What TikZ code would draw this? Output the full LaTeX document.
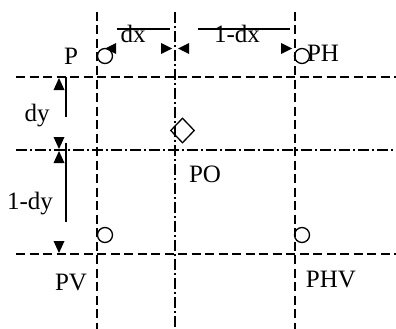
\documentclass[tikz,border=0pt]{standalone}
\usepackage{fontspec}
\setmainfont{Liberation Serif}
\usetikzlibrary{shapes.geometric}
\begin{document}
\begin{tikzpicture}[x=1pt,y=-1pt,
  dashln/.style={line width=1.4pt, dash pattern=on 9pt off 4.5pt},
  dashdot/.style={line width=1.4pt, dash pattern=on 11pt off 3pt on 2pt off 3pt},
  dimln/.style={line width=1.3pt},
  ptmark/.style={circle, draw, line width=1.3pt, minimum size=15pt, inner sep=0pt},
  omark/.style={diamond, draw, line width=1.3pt, minimum width=24pt, minimum height=25pt, inner sep=0pt},
  lbl/.style={font=\fontsize{25}{30}\selectfont, inner sep=0pt, anchor=base},
  tri/.style={fill=black}]
\useasboundingbox (0,0) rectangle (396,329);
% grid lines
\draw[dashln] (97,12) -- (97,329);
\draw[dashdot] (175,12) -- (175,329);
\draw[dashln] (295,12) -- (295,329);
\draw[dashln] (16,77) -- (396,77);
\draw[dashdot] (16,150) -- (396,150);
\draw[dashln] (16,254) -- (396,254);
% point marks
\node[ptmark] (cP) at (105,56) {};
\node[ptmark] (cPH) at (302,56) {};
\node[ptmark] (cPV) at (105,235) {};
\node[ptmark] (cPHV) at (302,235) {};
\node[omark] (dPO) at (182.5,130.5) {};
% horizontal dimension arrowheads
\fill[tri] (105,48.5) -- (116,43) -- (116,54) -- cycle;
\fill[tri] (172,48.5) -- (161,43) -- (161,54) -- cycle;
\fill[tri] (178,48.5) -- (189,43) -- (189,54) -- cycle;
\fill[tri] (292,48.5) -- (281,43) -- (281,54) -- cycle;
% vertical dimension arrowheads
\fill[tri] (59,78) -- (53.5,90) -- (64.5,90) -- cycle;
\fill[tri] (59,149) -- (53.5,137) -- (64.5,137) -- cycle;
\fill[tri] (59,151) -- (53.5,163) -- (64.5,163) -- cycle;
\fill[tri] (59,253) -- (53.5,241) -- (64.5,241) -- cycle;
% dimension lines
\draw[dimln] (117,29) -- (170,29);
\draw[dimln] (198,29) -- (290,29);
\draw[dimln] (66,77) -- (66,117);
\draw[dimln] (66,143) -- (66,222);
% labels
\node[lbl] (tP) at (71,65) {P};
\node[lbl] (tPH) at (323,62) {PH};
\node[lbl] (tdx) at (133,43) {dx};
\node[lbl] (t1dx) at (237,43) {1-dx};
\node[lbl] (tdy) at (37,121) {dy};
\node[lbl] (t1dy) at (30,209) {1-dy};
\node[lbl] (tPO) at (205,182) {PO};
\node[lbl] (tPV) at (71,290) {PV};
\node[lbl] (tPHV) at (331,287) {PHV};
\end{tikzpicture}
\end{document}
